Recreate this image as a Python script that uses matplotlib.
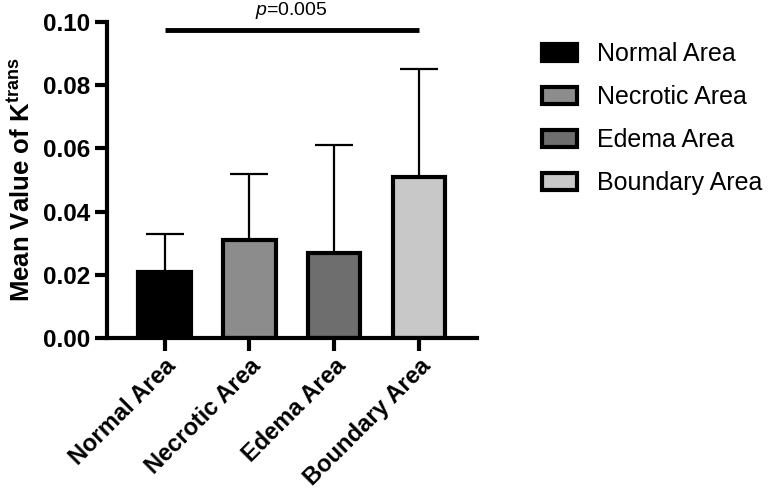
import matplotlib.pyplot as plt

plt.rcParams['font.family'] = ['Liberation Sans', 'DejaVu Sans']
plt.rcParams['mathtext.fontset'] = 'custom'
plt.rcParams['mathtext.rm'] = 'Liberation Sans'
plt.rcParams['mathtext.it'] = 'Liberation Sans:italic'
plt.rcParams['mathtext.bf'] = 'Liberation Sans:bold'

# data
groups = ["Normal Area", "Necrotic Area", "Edema Area", "Boundary Area"]
means = [0.021, 0.031, 0.027, 0.051]
sd_upper = [0.012, 0.021, 0.034, 0.034]
colors = ["#000000", "#8c8c8c", "#6e6e6e", "#c8c8c8"]
p_text = "=0.005"
sig_y = 0.0976

fig = plt.figure(figsize=(7.7, 4.96), dpi=100)
ax = fig.add_axes([0.139, 0.3185, 0.48, 0.637])

x = range(len(groups))
bars = ax.bar(x, means, width=0.62, color=colors, edgecolor="black",
              linewidth=3, label=groups, zorder=2)
ax.errorbar(x, means, yerr=[[0] * len(means), sd_upper], fmt="none",
            ecolor="black", elinewidth=1.6, capsize=14, capthick=1.6, zorder=1)

# significance bar
ax.plot([0, 3], [sig_y, sig_y], color="black", lw=3.5, solid_capstyle="butt",
        clip_on=False)
ax.text(1.5, 0.1003, r"$\mathit{p}$" + p_text, ha="center", va="bottom",
        fontsize=14, clip_on=False)

ax.set_xlim(-0.68, 3.68)
ax.set_ylim(0, 0.10)
ax.set_yticks([0, 0.02, 0.04, 0.06, 0.08, 0.10])
ax.set_yticklabels(["0.00", "0.02", "0.04", "0.06", "0.08", "0.10"],
                   fontsize=17.5, fontweight="bold")
ax.set_xticks(list(x))
ax.set_xticklabels(groups, rotation=45, ha="right", rotation_mode="anchor",
                   fontsize=17, fontweight="bold")
ax.set_ylabel(r"Mean Value of K$^{\mathbf{trans}}$", fontsize=18.5,
              fontweight="bold", labelpad=6)

for s in ["top", "right"]:
    ax.spines[s].set_visible(False)
for s in ["left", "bottom"]:
    ax.spines[s].set_linewidth(3)
ax.tick_params(axis="both", length=9, width=3, pad=3)

ax.legend(bars, groups, loc="upper left", bbox_to_anchor=(0.675, 0.96),
          bbox_transform=fig.transFigure, frameon=False, fontsize=18,
          handlelength=1.38, handleheight=0.7, labelspacing=0.76,
          handletextpad=0.8)

fig.savefig("out.png", dpi=100)
